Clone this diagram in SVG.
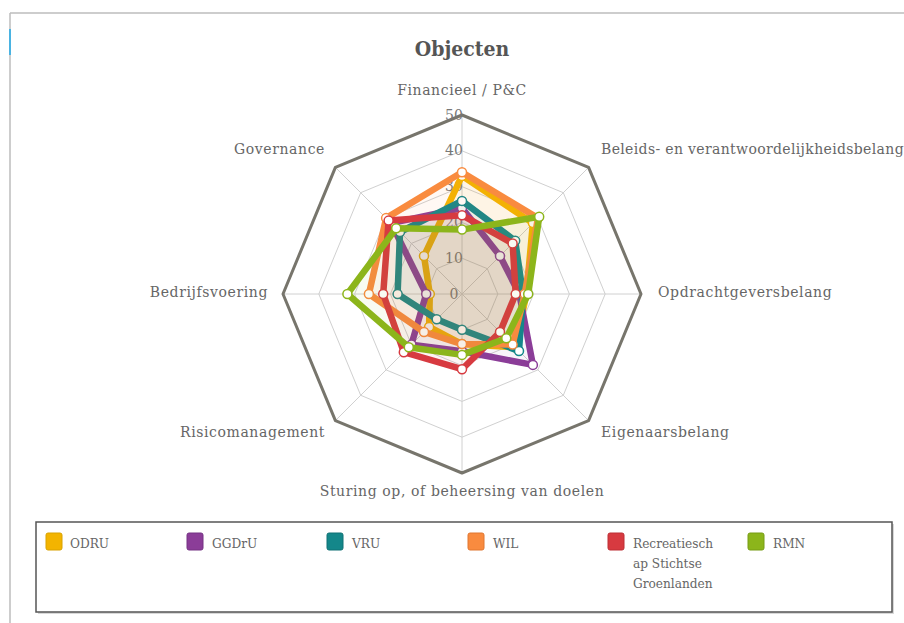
<svg xmlns="http://www.w3.org/2000/svg" width="904" height="623" viewBox="0 0 904 623">
<style>
  .ax{font-family:"DejaVu Serif","Liberation Serif",serif;font-size:14px;letter-spacing:0.6px;fill:#666}
  .tick{font-family:"DejaVu Serif","Liberation Serif",serif;font-size:14px;fill:#777;text-anchor:middle}
  .lg{font-family:"DejaVu Serif Condensed","DejaVu Serif","Liberation Serif",serif;font-stretch:condensed;font-size:13.5px;fill:#666}
  .ring{fill:none;stroke:#d0d0d0;stroke-width:1}
  .spoke{stroke:#d0d0d0;stroke-width:1}
  .ser{stroke-width:6.5;stroke-linejoin:round;fill-opacity:0.06}
  .dot{fill:#fff;stroke-width:1.5}
  .sw{stroke-width:1;rx:2}
</style>
<rect width="904" height="623" fill="#fff"/>
<g id="frame">
  <line x1="10" y1="13" x2="904" y2="13" stroke="#bdbdbd" stroke-width="1.5"/>
  <line x1="10" y1="13" x2="10" y2="623" stroke="#bdbdbd" stroke-width="1.5"/>
  <line x1="10" y1="29" x2="10" y2="55" stroke="#4ab3e2" stroke-width="2"/>
</g>
<text id="title" x="462" y="56" text-anchor="middle" style="font-family:'DejaVu Serif Condensed','DejaVu Serif',serif;font-stretch:condensed;font-weight:bold;font-size:21px;fill:#555">Objecten</text>
<g id="grid">
  <polygon class="ring" points="462,258.2 487.3,268.7 497.8,294 487.3,319.3 462,329.8 436.7,319.3 426.2,294 436.7,268.7"/>
  <polygon class="ring" points="462,222.4 512.6,243.4 533.6,294 512.6,344.6 462,365.6 411.4,344.6 390.4,294 411.4,243.4"/>
  <polygon class="ring" points="462,186.6 537.9,218.1 569.4,294 537.9,369.9 462,401.4 386.1,369.9 354.6,294 386.1,218.1"/>
  <polygon class="ring" points="462,150.8 563.3,192.7 605.2,294 563.3,395.3 462,437.2 360.7,395.3 318.8,294 360.7,192.7"/>
  <line class="spoke" x1="462" y1="294" x2="462" y2="115"/>
  <line class="spoke" x1="462" y1="294" x2="588.6" y2="167.4"/>
  <line class="spoke" x1="462" y1="294" x2="641" y2="294"/>
  <line class="spoke" x1="462" y1="294" x2="588.6" y2="420.6"/>
  <line class="spoke" x1="462" y1="294" x2="462" y2="473"/>
  <line class="spoke" x1="462" y1="294" x2="335.4" y2="420.6"/>
  <line class="spoke" x1="462" y1="294" x2="283" y2="294"/>
  <line class="spoke" x1="462" y1="294" x2="335.4" y2="167.4"/>
  <polygon points="462,115 588.6,167.4 641,294 588.6,420.6 462,473 335.4,420.6 283,294 335.4,167.4" fill="none" stroke="#77756c" stroke-width="3" stroke-linejoin="round"/>
  <text class="tick" x="454" y="299">0</text>
  <text class="tick" x="454" y="263">10</text>
  <text class="tick" x="454" y="227">20</text>
  <text class="tick" x="454" y="191">30</text>
  <text class="tick" x="454" y="155">40</text>
  <text class="tick" x="454" y="120">50</text>
</g>
<g id="axis-labels">
  <text class="ax" x="462" y="95" text-anchor="middle">Financieel / P&amp;C</text>
  <text class="ax" x="601" y="154" style="letter-spacing:0.35px">Beleids- en verantwoordelijkheidsbelang</text>
  <text class="ax" x="658" y="297">Opdrachtgeversbelang</text>
  <text class="ax" x="601" y="437">Eigenaarsbelang</text>
  <text class="ax" x="462" y="496" text-anchor="middle">Sturing op, of beheersing van doelen</text>
  <text class="ax" x="325" y="437" text-anchor="end">Risicomanagement</text>
  <text class="ax" x="268" y="297" text-anchor="end">Bedrijfsvoering</text>
  <text class="ax" x="325" y="154" text-anchor="end">Governance</text>
</g>
<g id="series">
  <g id="s-odru" stroke="#f3b400" fill="#f3b400">
    <polygon class="ser" points="462,175.9 532.9,223.1 526.4,294 515.2,347.2 462,344.1 429.1,326.9 429.8,294 424,256"/>
    <g class="dot"><circle cx="462" cy="175.9" r="4.5"/><circle cx="532.9" cy="223.1" r="4.5"/><circle cx="526.4" cy="294" r="4.5"/><circle cx="515.2" cy="347.2" r="4.5"/><circle cx="462" cy="344.1" r="4.5"/><circle cx="429.1" cy="326.9" r="4.5"/><circle cx="429.8" cy="294" r="4.5"/><circle cx="424" cy="256" r="4.5"/></g>
  </g>
  <g id="s-ggdru" stroke="#8b3d98" fill="#8b3d98">
    <polygon class="ser" points="462,208.1 500,256 519.3,294 532.9,364.9 462,351.3 411.4,344.6 426.2,294 391.1,223.1"/>
    <g class="dot"><circle cx="462" cy="208.1" r="4.5"/><circle cx="500" cy="256" r="4.5"/><circle cx="519.3" cy="294" r="4.5"/><circle cx="532.9" cy="364.9" r="4.5"/><circle cx="462" cy="351.3" r="4.5"/><circle cx="411.4" cy="344.6" r="4.5"/><circle cx="426.2" cy="294" r="4.5"/><circle cx="391.1" cy="223.1" r="4.5"/></g>
  </g>
  <g id="s-vru" stroke="#14878a" fill="#14878a">
    <polygon class="ser" points="462,200.9 515.2,240.8 522.9,294 519,351 462,329.8 436.7,319.3 397.6,294 400,232"/>
    <g class="dot"><circle cx="462" cy="200.9" r="4.5"/><circle cx="515.2" cy="240.8" r="4.5"/><circle cx="522.9" cy="294" r="4.5"/><circle cx="519" cy="351" r="4.5"/><circle cx="462" cy="329.8" r="4.5"/><circle cx="436.7" cy="319.3" r="4.5"/><circle cx="397.6" cy="294" r="4.5"/><circle cx="400" cy="232" r="4.5"/></g>
  </g>
  <g id="s-wil" stroke="#f98b3f" fill="#f98b3f">
    <polygon class="ser" points="462,172.3 537.9,218.1 524.7,294 512.6,344.6 462,344.1 424,332 368.9,294 386.1,218.1"/>
    <g class="dot"><circle cx="462" cy="172.3" r="4.5"/><circle cx="537.9" cy="218.1" r="4.5"/><circle cx="524.7" cy="294" r="4.5"/><circle cx="512.6" cy="344.6" r="4.5"/><circle cx="462" cy="344.1" r="4.5"/><circle cx="424" cy="332" r="4.5"/><circle cx="368.9" cy="294" r="4.5"/><circle cx="386.1" cy="218.1" r="4.5"/></g>
  </g>
  <g id="s-rsg" stroke="#d73a40" fill="#d73a40">
    <polygon class="ser" points="462,215.2 512.6,243.4 515.7,294 500,332 462,369.2 403.8,352.2 383.2,294 388.6,220.6"/>
    <g class="dot"><circle cx="462" cy="215.2" r="4.5"/><circle cx="512.6" cy="243.4" r="4.5"/><circle cx="515.7" cy="294" r="4.5"/><circle cx="500" cy="332" r="4.5"/><circle cx="462" cy="369.2" r="4.5"/><circle cx="403.8" cy="352.2" r="4.5"/><circle cx="383.2" cy="294" r="4.5"/><circle cx="388.6" cy="220.6" r="4.5"/></g>
  </g>
  <g id="s-rmn" stroke="#8cb51b" fill="#8cb51b">
    <polygon class="ser" points="462,229.6 539.2,216.8 528.2,294 506.3,338.3 462,354.9 408.8,347.2 347.4,294 396.2,228.2"/>
    <g class="dot"><circle cx="462" cy="229.6" r="4.5"/><circle cx="539.2" cy="216.8" r="4.5"/><circle cx="528.2" cy="294" r="4.5"/><circle cx="506.3" cy="338.3" r="4.5"/><circle cx="462" cy="354.9" r="4.5"/><circle cx="408.8" cy="347.2" r="4.5"/><circle cx="347.4" cy="294" r="4.5"/><circle cx="396.2" cy="228.2" r="4.5"/></g>
  </g>
</g>
<g id="legend">
  <rect x="38" y="524" width="856" height="90" fill="#d8d8d8"/>
  <rect x="36" y="522" width="856" height="90" fill="#fff" stroke="#555" stroke-width="1.5"/>
  <g id="lg-odru"><rect class="sw" x="46" y="533" width="16" height="17" fill="#f3b400" stroke="#d9a200"/><text class="lg" x="70" y="548">ODRU</text></g>
  <g id="lg-ggdru"><rect class="sw" x="187" y="533" width="16" height="17" fill="#8b3d98" stroke="#743283"/><text class="lg" x="212" y="548">GGDrU</text></g>
  <g id="lg-vru"><rect class="sw" x="327" y="533" width="16" height="17" fill="#14878a" stroke="#0f7174"/><text class="lg" x="352" y="548">VRU</text></g>
  <g id="lg-wil"><rect class="sw" x="468" y="533" width="16" height="17" fill="#f98b3f" stroke="#e07630"/><text class="lg" x="493" y="548">WIL</text></g>
  <g id="lg-rsg"><rect class="sw" x="608" y="533" width="16" height="17" fill="#d73a40" stroke="#bd2e34"/><text class="lg" x="633" y="548">Recreatiesch</text><text class="lg" x="633" y="568">ap Stichtse</text><text class="lg" x="633" y="588">Groenlanden</text></g>
  <g id="lg-rmn"><rect class="sw" x="748" y="533" width="16" height="17" fill="#8cb51b" stroke="#779c14"/><text class="lg" x="773" y="548">RMN</text></g>
</g>
</svg>
